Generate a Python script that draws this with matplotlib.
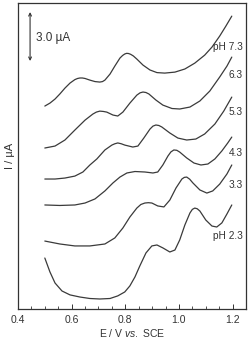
import matplotlib.pyplot as plt
from matplotlib.ticker import MultipleLocator

plt.rcParams['font.family'] = ['Liberation Sans', 'DejaVu Sans']
plt.rcParams['mathtext.fontset'] = 'custom'
plt.rcParams['mathtext.rm'] = 'Liberation Sans'
plt.rcParams['mathtext.it'] = 'Liberation Sans:italic'

# --- voltammograms (E in V vs SCE, I in uA, stacked with offsets) ---
E_73 = [0.500, 0.519, 0.538, 0.556, 0.575, 0.594, 0.612, 0.622, 0.631, 0.640, 0.650, 0.668,
        0.687, 0.705, 0.715, 0.724, 0.743, 0.761, 0.780, 0.790, 0.798, 0.805, 0.812, 0.820,
        0.830, 0.843, 0.866, 0.892, 0.918, 0.947, 0.985, 1.022, 1.059, 1.096, 1.123, 1.152,
        1.175, 1.197]
I_73 = [12.43, 12.61, 12.86, 13.17, 13.53, 13.84, 14.05, 14.12, 14.15, 14.15, 14.12, 14.02,
        13.93, 13.90, 13.93, 14.02, 14.39, 14.88, 15.37, 15.53, 15.62, 15.66, 15.65, 15.60,
        15.50, 15.31, 14.94, 14.64, 14.48, 14.45, 14.51, 14.70, 15.06, 15.55, 16.04, 16.72,
        17.33, 17.94]

E_63 = [0.500, 0.538, 0.575, 0.612, 0.650, 0.679, 0.692, 0.705, 0.718, 0.731, 0.754, 0.772,
        0.791, 0.817, 0.843, 0.855, 0.866, 0.877, 0.888, 0.914, 0.940, 0.974, 1.003, 1.041,
        1.078, 1.115, 1.152, 1.179, 1.197]
I_63 = [9.86, 9.98, 10.35, 10.96, 11.57, 11.94, 12.06, 12.12, 12.10, 12.06, 11.88, 11.82,
        12.06, 12.61, 13.10, 13.24, 13.29, 13.26, 13.17, 12.80, 12.49, 12.28, 12.25, 12.37,
        12.74, 13.35, 14.21, 14.88, 15.43]

E_53 = [0.500, 0.538, 0.575, 0.612, 0.642, 0.668, 0.694, 0.724, 0.750, 0.761, 0.772, 0.785,
        0.798, 0.828, 0.847, 0.869, 0.892, 0.903, 0.914, 0.925, 0.936, 0.966, 0.996, 1.029,
        1.063, 1.096, 1.134, 1.167, 1.197]
I_53 = [7.96, 7.96, 8.02, 8.14, 8.39, 8.82, 9.19, 9.74, 10.04, 10.12, 10.17, 10.12,
        10.04, 9.92, 9.98, 10.47, 11.02, 11.20, 11.27, 11.24, 11.15, 10.78, 10.47, 10.35,
        10.41, 10.72, 11.33, 12.12, 12.98]

E_43 = [0.500, 0.556, 0.612, 0.650, 0.687, 0.724, 0.754, 0.780, 0.806, 0.836, 0.873, 0.903,
        0.921, 0.940, 0.959, 0.970, 0.981, 0.992, 1.003, 1.029, 1.056, 1.082, 1.108, 1.134,
        1.160, 1.182, 1.197]
I_43 = [6.37, 6.34, 6.37, 6.49, 6.74, 7.23, 7.72, 8.08, 8.33, 8.42, 8.39, 8.33,
        8.39, 8.82, 9.37, 9.62, 9.74, 9.72, 9.61, 9.25, 8.94, 8.82, 8.88, 9.19,
        9.68, 10.17, 10.53]

E_33 = [0.500, 0.556, 0.612, 0.668, 0.724, 0.761, 0.791, 0.817, 0.843, 0.858, 0.873, 0.886,
        0.899, 0.921, 0.944, 0.966, 0.989, 1.011, 1.020, 1.029, 1.040, 1.052, 1.078, 1.104,
        1.126, 1.152, 1.179, 1.197]
I_33 = [4.16, 3.98, 3.86, 3.86, 3.98, 4.35, 4.96, 5.63, 6.18, 6.40, 6.49, 6.51,
        6.49, 6.31, 6.25, 6.67, 7.41, 7.96, 8.06, 8.08, 7.95, 7.72, 7.29, 7.10,
        7.23, 7.65, 8.27, 8.82]

E_23 = [0.500, 0.519, 0.538, 0.564, 0.594, 0.631, 0.668, 0.705, 0.743, 0.772, 0.798, 0.817,
        0.836, 0.854, 0.877, 0.899, 0.918, 0.940, 0.966, 0.985, 1.003, 1.022, 1.041, 1.050,
        1.059, 1.068, 1.078, 1.100, 1.123, 1.141, 1.160, 1.179, 1.197]
I_23 = [3.12, 2.27, 1.59, 1.10, 0.86, 0.73, 0.64, 0.61, 0.64, 0.80, 1.04, 1.41,
        1.96, 2.63, 3.43, 3.86, 3.92, 3.74, 3.49, 3.61, 4.23, 5.14, 5.88, 6.10,
        6.18, 6.14, 6.00, 5.45, 5.08, 5.02, 5.27, 5.82, 6.37]

curves = [(E_73, I_73), (E_63, I_63), (E_53, I_53), (E_43, I_43), (E_33, I_33), (E_23, I_23)]
labels = ['pH 7.3', '6.3', '5.3', '4.3', '3.3', 'pH 2.3']
label_I = [16.04, 14.33, 12.06, 9.55, 7.59, 4.47]

fig = plt.figure(figsize=(2.5, 3.41), dpi=100)
ax = fig.add_axes([0.072, 0.094, 0.912, 0.897])

for E, I in curves:
    ax.plot(E, I, color='#3a3a3a', lw=0.9, solid_joinstyle='round', solid_capstyle='round')

for lab, y in zip(labels, label_I):
    ax.text(1.239, y, lab, ha='right', va='center', fontsize=7.3, color='#333333')

# scale bar 3.0 uA
ax.annotate('', xy=(0.445, 18.19), xytext=(0.445, 15.19),
            arrowprops=dict(arrowstyle='<->', color='#333333', lw=0.8,
                            mutation_scale=5, shrinkA=0, shrinkB=0))
ax.text(0.466, 16.6, '3.0 \u00b5A', fontsize=8.5, va='center', color='#333333')

ax.set_xlim(0.4, 1.25)
ax.set_ylim(0, 18.74)
ax.xaxis.set_minor_locator(MultipleLocator(0.05))
ax.set_xticks([0.4, 0.6, 0.8, 1.0, 1.2])
ax.set_xticklabels(['0.4', '0.6', '0.8', '1.0', '1.2'])
ax.tick_params(axis='x', which='major', direction='in', length=3.5, width=0.7,
               labelsize=7.5, pad=4, colors='#333333')
ax.tick_params(axis='x', which='minor', direction='in', length=2, width=0.6, colors='#333333')
ax.set_yticks([])

for s in ax.spines.values():
    s.set_linewidth(0.9)
    s.set_color('#333333')

ax.set_xlabel(r'E / V $\mathit{vs.}$ SCE', fontsize=7.5, labelpad=2, color='#333333')
ax.set_ylabel('I / \u00b5A', fontsize=8, labelpad=2, color='#333333')

fig.savefig('out.png', dpi=100)
